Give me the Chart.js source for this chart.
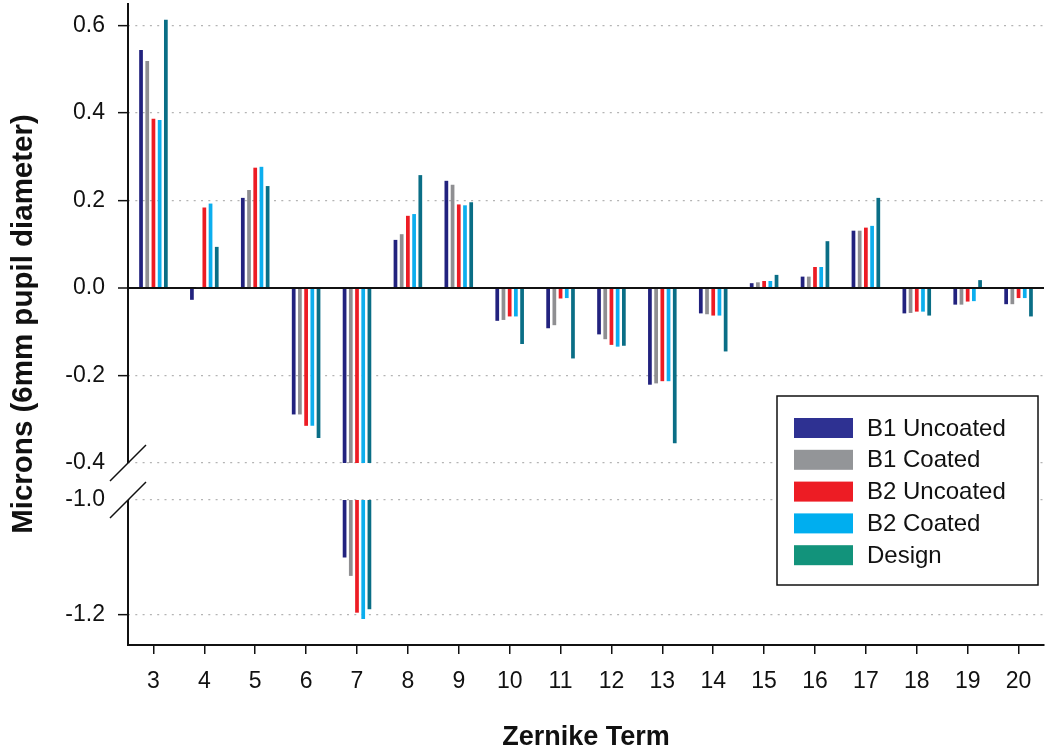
<!DOCTYPE html>
<html>
<head>
  <title>Zernike Terms</title>
  <script src="https://cdn.jsdelivr.net/npm/chart.js"></script>
  <style>
    body { margin: 0; background: #fff; }
  </style>
</head>
<body>
  <canvas id="zernikeChart" width="1050" height="752"></canvas>

  <script>
    // categories
    const terms = ['3', '4', '5', '6', '7', '8', '9', '10', '11', '12', '13', '14', '15', '16', '17', '18', '19', '20'];
    const seriesNames = ['B1 Uncoated', 'B1 Coated', 'B2 Uncoated', 'B2 Coated', 'Design'];

    // values in microns
    const b1Uncoated = [0.544, -0.027, 0.206, -0.289, -1.100, 0.110, 0.245, -0.075, -0.092, -0.106, -0.221, -0.058, 0.011, 0.026, 0.131, -0.058, -0.038, -0.037];
    const b1Coated   = [0.519, 0.002, 0.224, -0.289, -1.132, 0.123, 0.236, -0.073, -0.085, -0.117, -0.218, -0.060, 0.013, 0.026, 0.131, -0.057, -0.038, -0.037];
    const b2Uncoated = [0.387, 0.184, 0.275, -0.315, -1.196, 0.165, 0.191, -0.065, -0.024, -0.130, -0.213, -0.063, 0.016, 0.048, 0.138, -0.054, -0.031, -0.023];
    const b2Coated   = [0.384, 0.193, 0.277, -0.315, -1.207, 0.169, 0.189, -0.065, -0.023, -0.134, -0.213, -0.063, 0.016, 0.048, 0.142, -0.054, -0.030, -0.023];
    const design     = [0.613, 0.094, 0.233, -0.343, -1.190, 0.258, 0.196, -0.128, -0.161, -0.132, -0.355, -0.145, 0.030, 0.107, 0.206, -0.063, 0.018, -0.065];

    // tick labels of the two parts of the broken axis
    const upperTicks = [0.6, 0.4, 0.2, 0.0, -0.2, -0.4];
    const lowerTicks = [-1.0, -1.2];
    const breakLow = -0.4;   // upper part ends here
    const breakHigh = -1.0;  // lower part starts here

    const FONT = '"Liberation Sans", Arial, Helvetica, sans-serif';
    const barColors = ['#22227e', '#8f8f92', '#ed1c24', '#0caeee', '#0a6e86'];
    const legendColors = ['#2e3192', '#939598', '#ed1c24', '#00aeef', '#12937b'];
    const seriesValues = [b1Uncoated, b1Coated, b2Uncoated, b2Coated, design];

    // each series gets a bar on the upper axis and, where it falls past the break, a bar on the lower axis
    const datasets = [];
    seriesValues.forEach((vals, i) => {
      datasets.push({
        label: seriesNames[i],
        data: vals.map(v => v < breakLow ? breakLow : v),
        backgroundColor: barColors[i],
        stack: 's' + i,
        yAxisID: 'y'
      });
      datasets.push({
        label: seriesNames[i] + ' low',
        data: vals.map(v => v < breakLow ? [breakHigh, v] : null),
        backgroundColor: barColors[i],
        stack: 's' + i,
        yAxisID: 'y2'
      });
    });

    const isBreakTick = ctx => ctx.tick && (ctx.tick.value === breakLow || ctx.tick.value === breakHigh);
    const isZero = ctx => ctx.tick && ctx.tick.value === 0;

    function yAxis(ticks, min, max, weight) {
      return {
        type: 'linear',
        position: 'left',
        stack: 'broken',
        stackWeight: weight,
        stacked: false,
        min: min,
        max: max,
        afterBuildTicks: s => { s.ticks = ticks.map(v => ({ value: v })); },
        afterFit: s => {
          s.width = 128;
          s.paddingTop = 0;
          s.paddingBottom = 0;
        },
        ticks: {
          color: '#111',
          font: { size: 23, family: FONT },
          padding: 13,
          callback: v => v.toFixed(1)
        },
        grid: {
          color: ctx => isZero(ctx) ? '#111' : '#b4b4b4',
          lineWidth: ctx => isZero(ctx) ? 2 : 1.3,
          tickColor: ctx => isBreakTick(ctx) ? 'rgba(0,0,0,0)' : '#111',
          tickWidth: 1.5,
          tickLength: 10,
          tickBorderDash: []
        },
        border: {
          display: false,
          dash: ctx => isZero(ctx) ? [] : [2, 5.3]
        }
      };
    }

    const brokenAxis = {
      id: 'brokenAxis',
      afterDraw(chart) {
        const { ctx, chartArea, scales } = chart;
        const x0 = chartArea.left;
        const yTop = scales.y.getPixelForValue(breakLow);
        const yBottom = scales.y2.getPixelForValue(breakHigh);
        ctx.save();
        ctx.strokeStyle = '#111';
        ctx.lineWidth = 2;
        ctx.beginPath();
        ctx.moveTo(x0, chartArea.top);
        ctx.lineTo(x0, yTop);
        ctx.moveTo(x0, yBottom);
        ctx.lineTo(x0, chartArea.bottom);
        ctx.stroke();
        // break marks
        ctx.lineWidth = 1.5;
        ctx.beginPath();
        [yTop, yBottom].forEach(py => {
          ctx.moveTo(x0 - 18, py + 18);
          ctx.lineTo(x0 + 18, py - 18);
        });
        ctx.stroke();
        ctx.restore();

        // y axis title, centred on the whole broken axis
        ctx.save();
        ctx.translate(24, (chartArea.top + chartArea.bottom) / 2);
        ctx.rotate(-Math.PI / 2);
        ctx.font = 'bold 29.5px ' + FONT;
        ctx.fillStyle = '#111';
        ctx.textAlign = 'center';
        ctx.textBaseline = 'middle';
        ctx.fillText('Microns (6mm pupil diameter)', 0, 0);
        ctx.restore();

        // legend box inside the plot
        const left = chartArea.right - 267;
        const top = chartArea.top + 393;
        ctx.save();
        ctx.fillStyle = '#fff';
        ctx.fillRect(left, top, 261, 189);
        ctx.strokeStyle = '#111';
        ctx.lineWidth = 1.5;
        ctx.strokeRect(left, top, 261, 189);
        ctx.font = '24px ' + FONT;
        ctx.textBaseline = 'middle';
        seriesNames.forEach((name, i) => {
          const cy = top + 32 + i * 31.8;
          ctx.fillStyle = legendColors[i];
          ctx.fillRect(left + 17, cy - 10, 59, 20);
          ctx.fillStyle = '#111';
          ctx.fillText(name, left + 90, cy + 1);
        });
        ctx.restore();
      }
    };

    new Chart(document.getElementById('zernikeChart'), {
      type: 'bar',
      data: { labels: terms, datasets: datasets },
      plugins: [brokenAxis],
      options: {
        responsive: false,
        animation: false,
        categoryPercentage: 0.61,
        barPercentage: 0.6,
        layout: { padding: { left: 0, right: 6, top: 3, bottom: 0 } },
        plugins: {
          legend: { display: false },
          tooltip: { enabled: false }
        },
        scales: {
          x: {
            afterFit: s => { s.height = 107; },
            grid: {
              display: true,
              drawOnChartArea: false,
              offset: false,
              color: '#111',
              lineWidth: 1.5,
              tickLength: 9
            },
            border: { display: true, color: '#111', width: 2 },
            ticks: {
              color: '#111',
              font: { size: 23, family: FONT },
              padding: 14,
              maxRotation: 0,
              autoSkip: false
            },
            title: {
              display: true,
              text: 'Zernike Term',
              color: '#111',
              font: { size: 27, weight: 'bold', family: FONT },
              padding: { top: 0, bottom: -2 }
            }
          },
          // lower part listed first so that it is stacked below the upper part
          y2: yAxis(lowerTicks, -1.2522, -0.9687, 163),
          y: yAxis(upperTicks, -0.4434, 0.6514, 479)
        }
      }
    });
  </script>
</body>
</html>
